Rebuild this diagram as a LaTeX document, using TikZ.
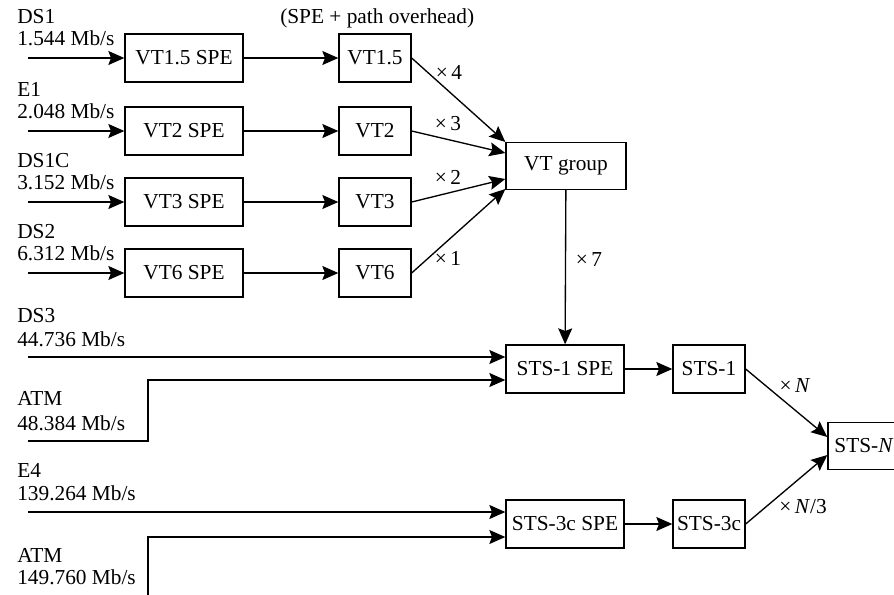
\documentclass[tikz,border=0pt]{standalone}
\usepackage{fontspec}
\setmainfont{Liberation Serif}
\usetikzlibrary{arrows.meta,calc}
\begin{document}
\begin{tikzpicture}[x=0.75pt,y=-0.75pt,
  font=\fontsize{16}{18}\selectfont,
  box/.style={draw,line width=1pt,inner sep=0pt,minimum height=36pt},
  wbox/.style={box,minimum width=88.5pt},
  nbox/.style={box,minimum width=54pt},
  arr/.style={line width=1pt,-{Stealth[length=12pt,width=10.5pt,inset=2pt]}},
  lbl/.style={anchor=base west,inner sep=0pt},
  mul/.style={inner sep=0pt}]
\useasboundingbox (0,0) rectangle (894,594);
% boxes
\node[wbox] (vt15spe) at (184,58) {VT1.5 SPE};
\node[wbox] (vt2spe) at (184,131) {VT2 SPE};
\node[wbox] (vt3spe) at (184,202) {VT3 SPE};
\node[wbox] (vt6spe) at (184,273) {VT6 SPE};
\node[nbox] (vt15) at (375,58) {VT1.5};
\node[nbox] (vt2) at (375,131) {VT2};
\node[nbox] (vt3) at (375,202) {VT3};
\node[nbox] (vt6) at (375,273) {VT6};
\node[box,minimum width=90pt,minimum height=35.25pt] (vtg) at (566,166) {VT group};
\node[wbox] (sts1spe) at (565,369) {STS-1 SPE};
\node[nbox] (sts1) at (709,369) {STS-1};
\node[wbox] (sts3cspe) at (565,524) {STS-3c SPE};
\node[nbox] (sts3c) at (709,524) {STS-3c};
\node[box,minimum width=54pt,minimum height=35.25pt] (stsn) at (864,446) {STS-\textit{N}};
% labels
\node[lbl] (l1a) at (17,23) {DS1};
\node[lbl] (l1b) at (17,45) {1.544 Mb/s};
\node[lbl] (l2a) at (17,96) {E1};
\node[lbl] (l2b) at (17,118) {2.048 Mb/s};
\node[lbl] (l3a) at (17,167) {DS1C};
\node[lbl] (l3b) at (17,189) {3.152 Mb/s};
\node[lbl] (l4a) at (17,238) {DS2};
\node[lbl] (l4b) at (17,260) {6.312 Mb/s};
\node[lbl] (l5a) at (17,322) {DS3};
\node[lbl] (l5b) at (17,346) {44.736 Mb/s};
\node[lbl] (l6a) at (17,405) {ATM};
\node[lbl] (l6b) at (17,430) {48.384 Mb/s};
\node[lbl] (l7a) at (17,477) {E4};
\node[lbl] (l7b) at (17,500) {139.264 Mb/s};
\node[lbl] (l8a) at (17,562) {ATM};
\node[lbl] (l8b) at (17,584) {149.760 Mb/s};
\node[lbl] (hdr) at (280,23) {(SPE + path overhead)};
% multiplier labels
\node[mul] (m4) at (449,72) {×\,4};
\node[mul] (m3) at (448,124) {×\,3};
\node[mul] (m2) at (448,177) {×\,2};
\node[mul] (m1) at (448,258) {×\,1};
\node[mul] (m7) at (589,260) {×\,7};
\node[mul] (mN) at (795,386) {×\,\textit{N}};
\node[mul] (mN3) at (803,507) {×\,\textit{N}/3};
% input coordinates
\coordinate (i1) at (28,58);
\coordinate (i2) at (28,131);
\coordinate (i3) at (28,202);
\coordinate (i4) at (28,273);
\coordinate (i5) at (28,357);
\coordinate (i6) at (28,441);
\coordinate (c6) at (148,441);
\coordinate (i7) at (28,512);
\coordinate (i8) at (148,600);
% targets
\coordinate (t5) at (sts1spe.west |- 0,357);
\coordinate (t6) at (sts1spe.west |- 0,380);
\coordinate (t7) at (sts3cspe.west |- 0,512);
\coordinate (t8) at (sts3cspe.west |- 0,537);
\coordinate (g1) at (vtg.west |- 0,142);
\coordinate (g2) at (vtg.west |- 0,153);
\coordinate (g3) at (vtg.west |- 0,179);
\coordinate (g4) at (vtg.west |- 0,189);
\coordinate (n1) at (stsn.west |- 0,437);
\coordinate (n2) at (stsn.west |- 0,455);
% connectors
\draw[arr] (i1) -- (vt15spe);
\draw[arr] (i2) -- (vt2spe);
\draw[arr] (i3) -- (vt3spe);
\draw[arr] (i4) -- (vt6spe);
\draw[arr] (vt15spe) -- (vt15);
\draw[arr] (vt2spe) -- (vt2);
\draw[arr] (vt3spe) -- (vt3);
\draw[arr] (vt6spe) -- (vt6);
\draw[arr] (vt15.east) -- (g1);
\draw[arr] (vt2.east) -- (g2);
\draw[arr] (vt3.east) -- (g3);
\draw[arr] (vt6.east) -- (g4);
\draw[arr] (vtg) -- (sts1spe);
\draw[arr] (i5) -- (t5);
\draw[arr] (i6) -- (c6) |- (t6);
\draw[arr] (sts1spe) -- (sts1);
\draw[arr] (sts1.east) -- (n1);
\draw[arr] (i7) -- (t7);
\draw[arr] (i8) |- (t8);
\draw[arr] (sts3cspe) -- (sts3c);
\draw[arr] (sts3c.east) -- (n2);
\end{tikzpicture}
\end{document}
